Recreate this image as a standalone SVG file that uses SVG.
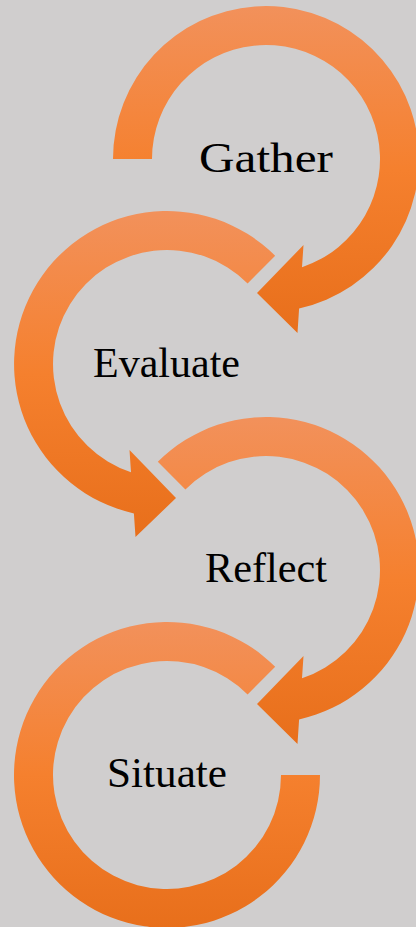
<svg xmlns="http://www.w3.org/2000/svg" width="416" height="927" viewBox="0 0 416 927">
<defs>
<linearGradient id="og" x1="0" y1="0" x2="0" y2="1">
<stop offset="0" stop-color="#F2915B"/>
<stop offset="0.5" stop-color="#F5802E"/>
<stop offset="1" stop-color="#E86F1B"/>
</linearGradient>
<style>
.arr{fill:url(#og);}
.lbl{font-family:"Liberation Serif","DejaVu Serif",serif;font-size:43px;fill:#000;}
</style>
</defs>
<rect width="416" height="927" fill="#D0CECE"/>
<g id="connectors"></g>
<g id="gather">
<path class="arr" d="M113,159 A153,153 0 1 1 299.1,308.4 L297.5,333 L257,293 L303.5,245 L302,267.2 A114,114 0 1 0 152,159 Z"/>
<text class="lbl" x="199" y="172" textLength="134" lengthAdjust="spacingAndGlyphs">Gather</text>
</g>
<g id="evaluate">
<path class="arr" d="M275.2,255.8 A153,153 0 1 0 133.9,513.4 L135.5,537 L176,498 L129.5,450 L131,472.2 A114,114 0 1 1 247.6,283.4 Z"/>
<text class="lbl" x="93" y="377" textLength="147" lengthAdjust="spacingAndGlyphs">Evaluate</text>
</g>
<g id="reflect">
<path class="arr" d="M157.8,461.8 A153,153 0 1 1 299.1,719.4 L297.5,744 L257,704 L303.5,656 L302,678.2 A114,114 0 1 0 185.4,489.4 Z"/>
<text class="lbl" x="205" y="582" textLength="122" lengthAdjust="spacingAndGlyphs">Reflect</text>
</g>
<g id="situate">
<path class="arr" d="M275.2,666.8 A153,153 0 1 0 320,775 L281,775 A114,114 0 1 1 247.6,694.4 Z"/>
<text class="lbl" x="107" y="787" textLength="120" lengthAdjust="spacingAndGlyphs">Situate</text>
</g>
</svg>
